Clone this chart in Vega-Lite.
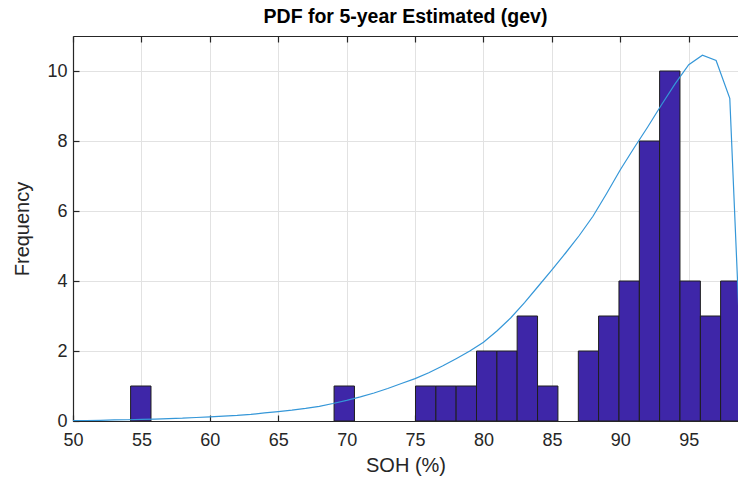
{
  "$schema": "https://vega.github.io/schema/vega-lite/v6.json",
  "width": 665,
  "height": 385,
  "autosize": {"type": "none"},
  "padding": {"left": 73, "top": 36, "right": 0, "bottom": 63},
  "background": "white",
  "title": {
    "text": "PDF for 5-year Estimated (gev)",
    "font": "Liberation Sans",
    "fontSize": 19.5,
    "fontWeight": "bold",
    "color": "#000000",
    "anchor": "middle",
    "offset": 8
  },
  "config": {
    "view": {"stroke": null},
    "axis": {
      "labelFont": "Liberation Sans",
      "labelFontSize": 18,
      "labelColor": "#262626",
      "labelFlush": false,
      "titleFont": "Liberation Sans",
      "titleFontSize": 20,
      "titleFontWeight": "normal",
      "titleColor": "#262626",
      "domainColor": "#262626",
      "domainWidth": 1.2,
      "tickColor": "#262626",
      "tickSize": -6,
      "tickWidth": 1.2,
      "gridColor": "#e2e2e2",
      "gridWidth": 1
    }
  },
  "datasets": {
    "hist": [
      {"bin_start": 54.21, "bin_end": 55.70, "count": 1},
      {"bin_start": 69.08, "bin_end": 70.57, "count": 1},
      {"bin_start": 75.03, "bin_end": 76.52, "count": 1},
      {"bin_start": 76.52, "bin_end": 78.00, "count": 1},
      {"bin_start": 78.00, "bin_end": 79.49, "count": 1},
      {"bin_start": 79.49, "bin_end": 80.98, "count": 2},
      {"bin_start": 80.98, "bin_end": 82.46, "count": 2},
      {"bin_start": 82.46, "bin_end": 83.95, "count": 3},
      {"bin_start": 83.95, "bin_end": 85.44, "count": 1},
      {"bin_start": 86.93, "bin_end": 88.41, "count": 2},
      {"bin_start": 88.41, "bin_end": 89.90, "count": 3},
      {"bin_start": 89.90, "bin_end": 91.39, "count": 4},
      {"bin_start": 91.39, "bin_end": 92.87, "count": 8},
      {"bin_start": 92.87, "bin_end": 94.36, "count": 10},
      {"bin_start": 94.36, "bin_end": 95.85, "count": 4},
      {"bin_start": 95.85, "bin_end": 97.33, "count": 3},
      {"bin_start": 97.33, "bin_end": 98.82, "count": 4}
    ],
    "pdf": [
      {"soh": 50, "density": 0.01},
      {"soh": 51, "density": 0.015},
      {"soh": 52, "density": 0.02},
      {"soh": 53, "density": 0.03},
      {"soh": 54, "density": 0.035},
      {"soh": 55, "density": 0.045},
      {"soh": 56, "density": 0.055},
      {"soh": 57, "density": 0.07},
      {"soh": 58, "density": 0.08},
      {"soh": 59, "density": 0.10},
      {"soh": 60, "density": 0.12},
      {"soh": 61, "density": 0.14},
      {"soh": 62, "density": 0.16},
      {"soh": 63, "density": 0.19},
      {"soh": 64, "density": 0.23},
      {"soh": 65, "density": 0.27},
      {"soh": 66, "density": 0.31},
      {"soh": 67, "density": 0.36},
      {"soh": 68, "density": 0.42},
      {"soh": 69, "density": 0.50},
      {"soh": 70, "density": 0.59},
      {"soh": 71, "density": 0.69},
      {"soh": 72, "density": 0.80},
      {"soh": 73, "density": 0.93},
      {"soh": 74, "density": 1.07},
      {"soh": 75, "density": 1.21},
      {"soh": 76, "density": 1.38},
      {"soh": 77, "density": 1.57},
      {"soh": 78, "density": 1.78},
      {"soh": 79, "density": 2.00},
      {"soh": 80, "density": 2.25},
      {"soh": 81, "density": 2.58},
      {"soh": 82, "density": 2.95},
      {"soh": 83, "density": 3.38},
      {"soh": 84, "density": 3.85},
      {"soh": 85, "density": 4.32},
      {"soh": 86, "density": 4.80},
      {"soh": 87, "density": 5.30},
      {"soh": 88, "density": 5.85},
      {"soh": 89, "density": 6.50},
      {"soh": 90, "density": 7.18},
      {"soh": 91, "density": 7.80},
      {"soh": 92, "density": 8.40},
      {"soh": 93, "density": 9.03},
      {"soh": 94, "density": 9.63},
      {"soh": 95, "density": 10.18},
      {"soh": 96, "density": 10.45},
      {"soh": 97, "density": 10.30},
      {"soh": 98, "density": 9.22},
      {"soh": 99, "density": 0}
    ]
  },
  "layer": [
    {
      "data": {"name": "hist"},
      "mark": {"type": "bar", "fill": "#3E26A8", "stroke": "#1e1e1e", "strokeWidth": 1, "clip": true},
      "encoding": {
        "x": {
          "field": "bin_start",
          "type": "quantitative",
          "scale": {"domain": [50, 98.6], "nice": false, "zero": false, "padding": 0},
          "axis": {
            "orient": "bottom",
            "values": [50, 55, 60, 65, 70, 75, 80, 85, 90, 95],
            "grid": true,
            "title": "SOH (%)",
            "labelPadding": 16,
            "titlePadding": 6
          }
        },
        "x2": {"field": "bin_end"},
        "y": {
          "field": "count",
          "type": "quantitative",
          "scale": {"domain": [0, 11], "nice": false, "padding": 0},
          "axis": {
            "values": [0, 2, 4, 6, 8, 10],
            "grid": true,
            "title": "Frequency",
            "labelPadding": 12,
            "titlePadding": 14
          }
        },
        "y2": {"datum": 0}
      }
    },
    {
      "data": {"name": "pdf"},
      "mark": {"type": "line", "color": "#3597d8", "strokeWidth": 1.2, "clip": true},
      "encoding": {
        "x": {
          "field": "soh",
          "type": "quantitative",
          "axis": {
            "orient": "top",
            "values": [50, 55, 60, 65, 70, 75, 80, 85, 90, 95],
            "labels": false,
            "grid": false,
            "title": null
          }
        },
        "y": {"field": "density", "type": "quantitative", "axis": null}
      }
    }
  ],
  "resolve": {"axis": {"x": "independent", "y": "independent"}}
}
